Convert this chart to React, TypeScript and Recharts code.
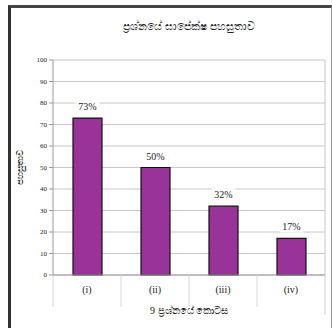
import React from 'react';
import { BarChart, Bar, XAxis, YAxis, CartesianGrid, LabelList, Label } from 'recharts';

const parts = ['(i)', '(ii)', '(iii)', '(iv)'];
const facility = [73, 50, 32, 17];
const yTicks = [0, 10, 20, 30, 40, 50, 60, 70, 80, 90, 100];

const title = 'ප්‍රශ්නයේ සාපේක්ෂ පහසුතාව';
const yTitle = 'පහසුතාව';
const xTitle = '9 ප්‍රශ්නයේ කොටස';

const data = parts.map((name, i) => ({ name, value: facility[i] }));

const serif = '"Liberation Serif", "DejaVu Serif", serif';
const half = 34;

// category label plus the divider lines between categories
const PartTick = (props: any) => {
  const { x, y, payload, index } = props;
  const last = index === parts.length - 1;
  return (
    <g>
      <line x1={x - half} y1={y - 8} x2={x - half} y2={y + 24} stroke="#d8d8d8" />
      {last && <line x1={x + half} y1={y - 8} x2={x + half} y2={y + 32} stroke="#d0d0d0" />}
      <text x={x} y={y + 10} textAnchor="middle" fontSize={10} fontFamily={serif} fill="#222">
        {payload.value}
      </text>
    </g>
  );
};

const PctLabel = (props: any) => {
  const { x, y, width, value } = props;
  const cx = x + width / 2;
  return (
    <g>
      <rect x={cx - 12} y={y - 18} width={24} height={12} fill="#fff" />
      <text x={cx} y={y - 8} textAnchor="middle" fontSize={10} fontFamily={serif} fill="#222">
        {value}%
      </text>
    </g>
  );
};

export default function App() {
  return (
    <div style={{ position: 'absolute', left: 0, top: 0, width: 332, height: 328, background: '#fff', overflow: 'hidden' }}>
      <div
        style={{
          position: 'absolute',
          left: 8,
          top: 5,
          width: 320,
          height: 340,
          borderLeft: '3px solid #333',
          borderTop: '3px solid #444',
          borderRight: '1px solid #999',
        }}
      />
      <div
        style={{
          position: 'absolute',
          left: 53,
          width: 272,
          top: 20,
          textAlign: 'center',
          fontSize: 11,
          fontFamily: serif,
          color: '#222',
        }}
      >
        {title}
      </div>
      <div style={{ position: 'absolute', left: 0, top: 0 }}>
        <BarChart width={332} height={328} data={data} margin={{ top: 60, right: 7, bottom: 0, left: 8 }}>
          <CartesianGrid
            stroke="#c8c8c8"
            verticalCoordinatesGenerator={({ offset }: any) => [offset.left + offset.width]}
          />
          <XAxis
            dataKey="name"
            height={53}
            axisLine={{ stroke: '#999' }}
            tickLine={false}
            tick={<PartTick />}
            interval={0}
          >
            <Label value={xTitle} position="insideBottom" offset={14} fontSize={10} fontFamily={serif} fill="#222" />
          </XAxis>
          <YAxis
            width={45}
            domain={[0, 100]}
            ticks={yTicks}
            interval={0}
            axisLine={{ stroke: '#999' }}
            tickLine={{ stroke: '#999' }}
            tickSize={4}
            tick={{ fontSize: 7, fontFamily: serif, fill: '#222' }}
          >
            <Label value={yTitle} angle={-90} position="insideLeft" offset={12} fontSize={9} fontFamily={serif} fill="#222" style={{ textAnchor: 'middle' }} />
          </YAxis>
          <Bar dataKey="value" fill="#993399" stroke="#111" strokeWidth={1.2} barSize={29} isAnimationActive={false}>
            <LabelList dataKey="value" content={<PctLabel />} />
          </Bar>
        </BarChart>
      </div>
    </div>
  );
}
